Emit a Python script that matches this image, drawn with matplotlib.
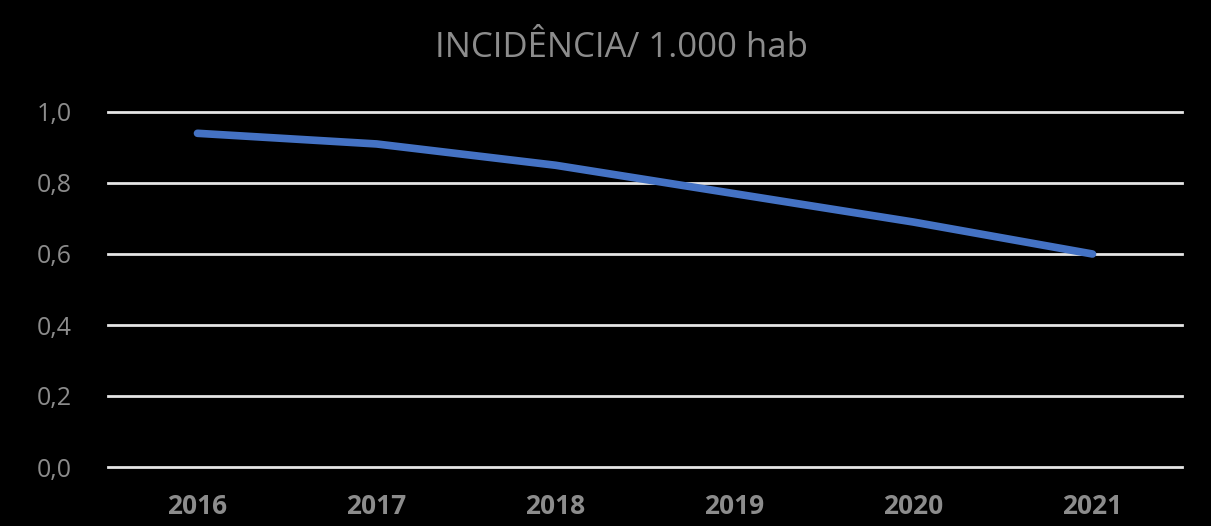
import matplotlib.pyplot as plt

years = ["2016", "2017", "2018", "2019", "2020", "2021"]
incidencia = [0.94, 0.91, 0.85, 0.77, 0.69, 0.60]
y_ticks = [0.0, 0.2, 0.4, 0.6, 0.8, 1.0]
y_labels = ["0,0", "0,2", "0,4", "0,6", "0,8", "1,0"]

plt.rcParams["font.family"] = ["Open Sans", "DejaVu Sans"]

fig = plt.figure(figsize=(12.11, 5.26), dpi=100, facecolor="black")
ax = fig.add_axes([108 / 1211, 59 / 526, 1074 / 1211, 355 / 526])
ax.set_facecolor("black")

x = range(len(years))
ax.plot(x, incidencia, color="#4472C4", linewidth=5.5, solid_capstyle="round", zorder=3)

ax.set_xlim(-0.5, len(years) - 0.5)
ax.set_ylim(0, 1.0)
ax.set_yticks(y_ticks)
ax.set_yticklabels(y_labels, color="#8c8c8c", fontsize=18)
ax.set_xticks(list(x))
ax.set_xticklabels(years, color="#8c8c8c", fontsize=19, fontweight="bold")
ax.tick_params(length=0, axis="y", pad=26)
ax.tick_params(length=0, axis="x", pad=19)
ax.grid(axis="y", color="#e6e6e6", linewidth=2, clip_on=False)
ax.set_axisbelow(True)
for s in ax.spines.values():
    s.set_visible(False)

fig.text(621 / 1211, 1 - 48 / 526, "INCIDÊNCIA/ 1.000 hab", color="#8c8c8c",
         fontsize=25, ha="center", va="center")

fig.savefig("out.png", dpi=100, facecolor="black")
